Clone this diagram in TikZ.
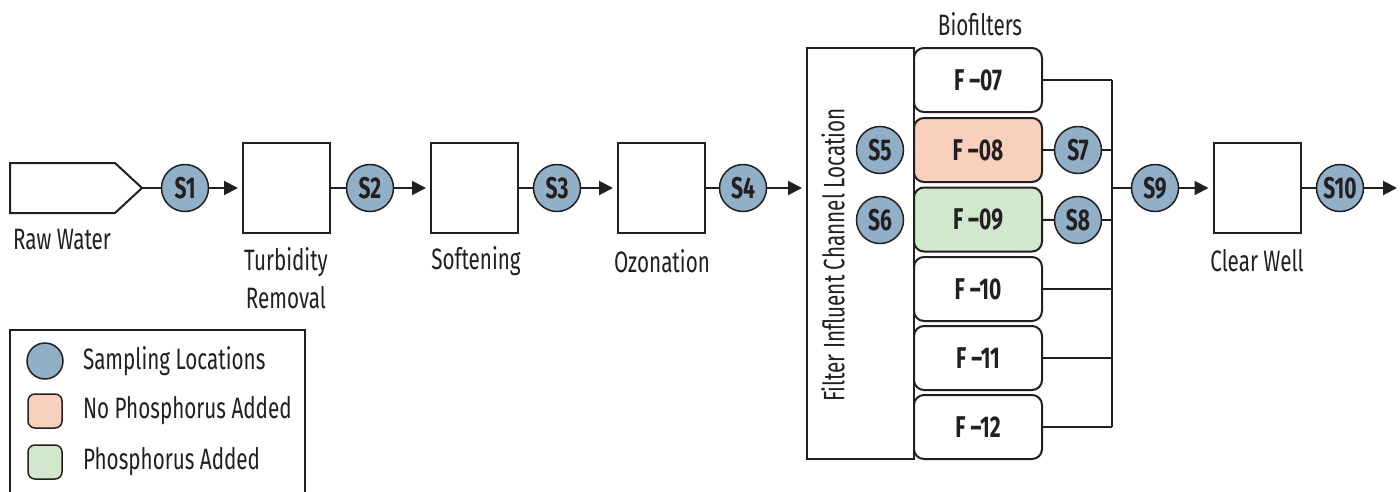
\documentclass[tikz,border=0pt]{standalone}
\usepackage{fontspec}
\setmainfont[FakeStretch=0.7]{Fira Sans}
\usetikzlibrary{arrows.meta}
\definecolor{sblue}{RGB}{145,176,199}
\definecolor{fpink}{RGB}{249,207,190}
\definecolor{fgreen}{RGB}{209,232,205}
\definecolor{ink}{RGB}{35,31,32}
\begin{document}
\begin{tikzpicture}[x=1pt,y=-1pt, line width=2pt, draw=ink, text=ink,
  samp/.style={circle, draw=ink, fill=sblue, minimum size=47pt, inner sep=0pt, line width=1.5pt, font=\bfseries\fontsize{30}{30}\selectfont},
  unit/.style={draw=ink, minimum width=87pt, minimum height=90pt, inner sep=0pt},
  filt/.style={draw=ink, rounded corners=10pt, minimum width=128pt, minimum height=64pt, inner sep=0pt, font=\bfseries\fontsize{30}{30}\selectfont},
  lbl/.style={font=\fontsize{29.5}{38}\selectfont, align=center, inner sep=0pt},
  arr/.style={-{Triangle[length=14pt,width=14pt]}, shorten >=4pt},
  legsq/.style={draw=ink, rounded corners=7pt, minimum size=34pt, inner sep=0pt, line width=1.5pt},
]
\useasboundingbox (0,0) rectangle (1400,491);
\clip (0,0) rectangle (1400,491);

% raw water
\draw (10,163) -- (115,163) -- (142,188) -- (115,213) -- (10,213) -- cycle;
\coordinate (rawtip) at (142,188);
\node[lbl] (rawl) at (62,240) {Raw Water};

% sampling points and units
\node[samp] (s1) at (185,188) {S1};
\node[unit] (turb) at (286.5,188) {};
\node[lbl, anchor=north] (turbl) at (286,246) {Turbidity\\Removal};
\node[samp] (s2) at (370,188) {S2};
\node[unit] (soft) at (474.5,188) {};
\node[lbl] (softl) at (476,261) {Softening};
\node[samp] (s3) at (557,188) {S3};
\node[unit] (ozon) at (661.5,188) {};
\node[lbl] (ozonl) at (662,261) {Ozonation};
\node[samp] (s4) at (743,188) {S4};

\draw (rawtip) -- (s1);
\draw[arr] (s1) -- (turb);
\draw (turb) -- (s2);
\draw[arr] (s2) -- (soft);
\draw (soft) -- (s3);
\draw[arr] (s3) -- (ozon);
\draw (ozon) -- (s4);

% channel
\node[draw=ink, minimum width=107pt, minimum height=411pt, inner sep=0pt] (chan) at (860.5,253.5) {};
\node[lbl, rotate=90] (chanl) at (833,255) {Filter Influent Channel Location};
\coordinate (chin) at (chan.west |- s4);
\draw[arr] (s4) -- (chin);
\node[samp] (s5) at (880,150) {S5};
\node[samp] (s6) at (880,220) {S6};

% filters
\node[lbl] (bio) at (980,24) {Biofilters};
\node[filt, fill=white] (f07) at (978,80) {F –07};
\node[filt, fill=fpink] (f08) at (978,150) {F –08};
\node[filt, fill=fgreen] (f09) at (978,219.5) {F –09};
\node[filt, fill=white] (f10) at (978,289) {F –10};
\node[filt, fill=white] (f11) at (978,358) {F –11};
\node[filt, fill=white] (f12) at (978,427) {F –12};

% collector
\coordinate (bt) at (1112,80);
\coordinate (bb) at (1112,427);
\coordinate (bm) at (1112,188);
\draw (bt) -- (bb);
\node[samp] (s7) at (1078,150) {S7};
\node[samp] (s8) at (1078,220) {S8};
\draw (f07.east) -- (bt);
\draw (f08) -- (s7);
\draw (s7) -- (s7 -| bt);
\draw (f09) -- (s8);
\draw (s8) -- (s8 -| bt);
\draw (f10.east) -- (f10.east -| bt);
\draw (f11.east) -- (f11.east -| bt);
\draw (f12.east) -- (bb);

% clear well
\node[samp] (s9) at (1155,188) {S9};
\node[unit] (well) at (1257,188) {};
\node[lbl] (welll) at (1257,261) {Clear Well};
\node[samp] (s10) at (1340,188) {S10};
\coordinate (out) at (1397,188);
\draw (bm) -- (s9);
\draw[arr] (s9) -- (well);
\draw (well) -- (s10);
\draw[arr, shorten >=0pt] (s10) -- (out);

% legend
\draw (10,330) rectangle (305,500);
\node[samp, minimum size=36pt] (lg1) at (45,361) {};
\node[legsq, fill=fpink] (lg2) at (45,411) {};
\node[legsq, fill=fgreen] (lg3) at (45,462) {};
\node[lbl, anchor=west] (lt1) at (82,361) {Sampling Locations};
\node[lbl, anchor=west] (lt2) at (82,411) {No Phosphorus Added};
\node[lbl, anchor=west] (lt3) at (82,462) {Phosphorus Added};
\end{tikzpicture}
\end{document}
